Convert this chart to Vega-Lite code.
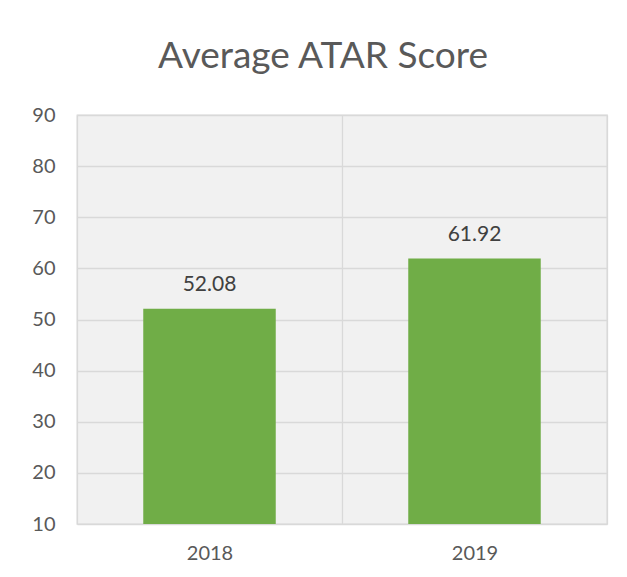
{
  "$schema": "https://vega.github.io/schema/vega-lite/v6.json",
  "width": 530,
  "height": 409,
  "autosize": {"type": "none"},
  "padding": {"left": 77, "top": 115, "right": 20, "bottom": 53},
  "background": "white",
  "title": {
    "text": "Average ATAR Score",
    "fontSize": 37,
    "font": "Lato",
    "color": "#595959",
    "fontWeight": "normal",
    "anchor": "middle",
    "dx": -19,
    "offset": 29
  },
  "data": {
    "values": [
      {"year": "2018", "score": 52.08},
      {"year": "2019", "score": 61.92}
    ]
  },
  "encoding": {
    "x": {
      "field": "year",
      "type": "nominal",
      "scale": {"paddingInner": 0, "paddingOuter": 0},
      "axis": {
        "title": null,
        "labelAngle": 0,
        "grid": true,
        "tickBand": "extent",
        "gridColor": "#d9d9d9",
        "gridWidth": 1.3,
        "domain": false,
        "ticks": false,
        "labelPadding": 19,
        "labelFont": "Lato",
        "labelFontSize": 20,
        "labelColor": "#595959"
      }
    },
    "y": {
      "field": "score",
      "type": "quantitative",
      "scale": {"domain": [10, 90], "nice": false, "zero": false},
      "axis": {
        "title": null,
        "values": [10, 20, 30, 40, 50, 60, 70, 80, 90],
        "grid": true,
        "gridColor": "#d9d9d9",
        "gridWidth": 1.3,
        "domain": false,
        "ticks": false,
        "labelPadding": 22,
        "labelFont": "Lato",
        "labelFontSize": 20,
        "labelColor": "#595959"
      }
    }
  },
  "layer": [
    {
      "mark": {"type": "bar", "color": "#70AD47", "width": {"band": 0.5}},
      "encoding": {"y2": {"datum": 10}}
    },
    {
      "mark": {
        "type": "text",
        "baseline": "alphabetic",
        "dy": -18,
        "font": "Lato",
        "fontSize": 21,
        "color": "#404040"
      },
      "encoding": {"text": {"field": "score", "type": "quantitative", "format": ".2f"}}
    }
  ],
  "config": {
    "view": {"stroke": "#d9d9d9", "strokeWidth": 1.3, "fill": "#f1f1f1"}
  }
}
